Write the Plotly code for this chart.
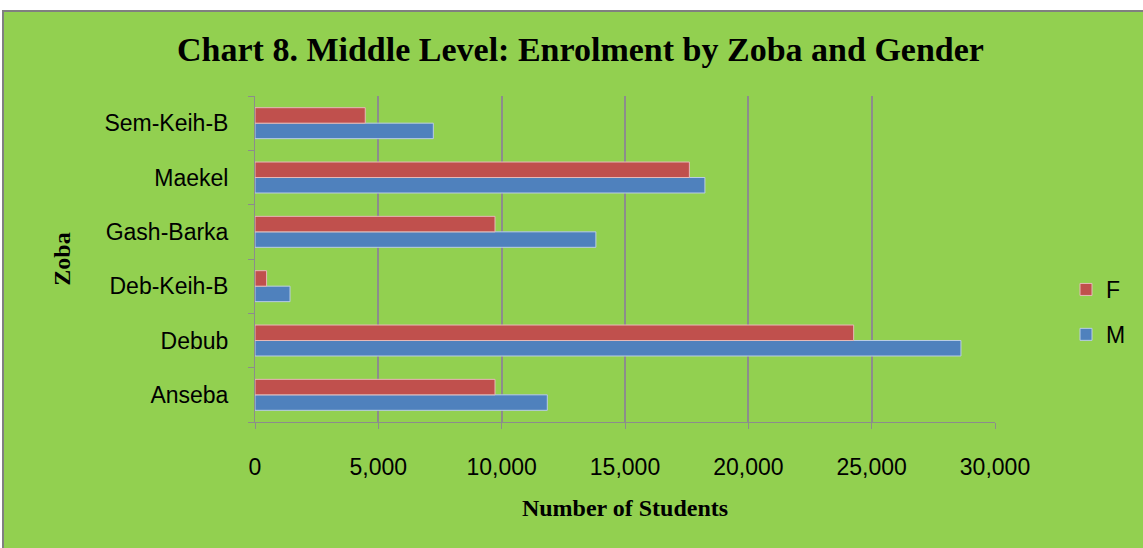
import plotly.graph_objects as go

zobas = ["Anseba", "Debub", "Deb-Keih-B", "Gash-Barka", "Maekel", "Sem-Keih-B"]
female = [9730, 24270, 470, 9730, 17610, 4470]
male = [11850, 28620, 1420, 13820, 18240, 7230]
x_ticks = [0, 5000, 10000, 15000, 20000, 25000, 30000]
x_tick_labels = ["0", "5,000", "10,000", "15,000", "20,000", "25,000", "30,000"]

W, H = 1143, 548
L, R, T, B = 255, 148, 96, 126
pw, ph = W - L - R, H - T - B

def px(x):
    return (x - L) / pw

def py(y):
    return (H - B - y) / ph

fig = go.Figure()
fig.add_trace(go.Bar(y=zobas, x=male, name="M", orientation="h",
                     marker=dict(color="#4F81BD", line=dict(color="#B9CDE5", width=1)),
                     legendgroup="M", legendrank=2))
fig.add_trace(go.Bar(y=zobas, x=female, name="F", orientation="h",
                     marker=dict(color="#C0504D", line=dict(color="#E6B9B8", width=1)),
                     legendgroup="F", legendrank=1))

serif = "Liberation Serif"
sans = "Liberation Sans"

fig.update_layout(
    width=W, height=H,
    margin=dict(l=L, r=R, t=T, b=B, autoexpand=False),
    paper_bgcolor="white",
    plot_bgcolor="white",
    barmode="group",
    bargap=0.43,
    bargroupgap=0,
    title=dict(text="<b>Chart 8. Middle Level: Enrolment by Zoba and Gender</b>",
               font=dict(family=serif, size=34, color="black"),
               x=(181 + 980) / 2 / W, xanchor="center", y=1 - 49 / H, yanchor="middle"),
    legend=dict(x=px(1066), y=py(268), xanchor="left", yanchor="top",
                traceorder="grouped", tracegroupgap=12,
                font=dict(family=sans, size=23, color="black"),
                bgcolor="rgba(0,0,0,0)", itemwidth=30),
    showlegend=True,
    shapes=[dict(type="rect", xref="paper", yref="paper",
                 x0=px(3), x1=px(1150), y0=py(11), y1=py(560),
                 fillcolor="#92D050", line=dict(color="#808080", width=2),
                 layer="below")],
)

fig.update_xaxes(
    range=[0, 30000], tickvals=x_ticks, ticktext=x_tick_labels,
    showgrid=True, gridcolor="#8C8C8C", gridwidth=2,
    showline=True, linecolor="#8C8C8C", linewidth=1,
    ticks="outside", ticklen=6, tickcolor="#8C8C8C",
    tickfont=dict(family=sans, size=23, color="black"),
    ticklabelstandoff=18, zeroline=False, automargin=False,
    title=dict(text="<b>Number of Students</b>", font=dict(family=serif, size=24, color="black"),
               standoff=20),
)
fig.update_yaxes(
    showline=True, linecolor="#8C8C8C", linewidth=1,
    ticks="outside", ticklen=6, tickcolor="#8C8C8C", tickson="boundaries",
    tickfont=dict(family=sans, size=23, color="black"),
    ticklabelstandoff=21, automargin=False,
    title=dict(text="<b>Zoba</b>", font=dict(family=serif, size=24, color="black"),
               standoff=27),
)

fig.write_html("out.html", config={"displayModeBar": False},
               post_script="document.body.style.margin='0';")
